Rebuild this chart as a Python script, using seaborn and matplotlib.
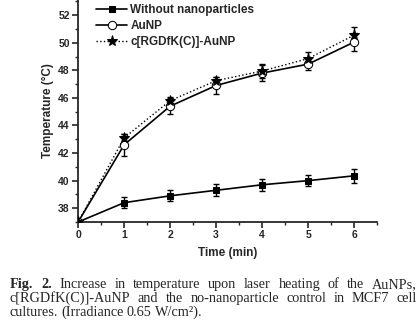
import numpy as np
import pandas as pd
import matplotlib
matplotlib.use('Agg')
import matplotlib.pyplot as plt
import seaborn as sns
from matplotlib.ticker import MultipleLocator

# Datos
tiempo = [0, 1, 2, 3, 4, 5, 6]
sin_np = [37.0, 38.4, 38.9, 39.3, 39.7, 40.0, 40.35]
sin_np_err = [0, 0.4, 0.4, 0.45, 0.45, 0.4, 0.5]
aunp = [37.0, 42.6, 45.4, 46.9, 47.8, 48.45, 50.05]
aunp_err = [0, 0.8, 0.6, 0.6, 0.55, 0.45, 0.65]
rgd = [37.0, 43.1, 45.8, 47.25, 47.95, 48.85, 50.55]
rgd_err = [0, 0.3, 0.3, 0.25, 0.5, 0.45, 0.6]

nombres = ['Without nanoparticles', 'AuNP', 'c[RGDfK(C)]-AuNP']

df = pd.DataFrame({
    'tiempo': tiempo * 3,
    'temp': sin_np + aunp + rgd,
    'serie': [nombres[0]] * 7 + [nombres[1]] * 7 + [nombres[2]] * 7,
})

sns.set_style('ticks')
plt.rcParams['font.family'] = ['Liberation Sans', 'DejaVu Sans']

fig = plt.figure(figsize=(4.2, 3.26), dpi=100)
ax = fig.add_axes([0.186, 0.319, 0.712, 0.681])

estilos = {
    nombres[0]: dict(marker='s', ls='-', mfc='black', ms=4.5, lw=1.2),
    nombres[1]: dict(marker='o', ls='-', mfc='white', ms=6, lw=1.2),
    nombres[2]: dict(marker='*', ls=':', mfc='black', ms=8, lw=1.0),
}
errores = {nombres[0]: sin_np_err, nombres[1]: aunp_err, nombres[2]: rgd_err}

for nombre in nombres:
    sub = df[df['serie'] == nombre]
    e = estilos[nombre]
    ax.errorbar(sub['tiempo'], sub['temp'], yerr=errores[nombre], fmt='none',
                ecolor='black', elinewidth=1.0, capsize=2.5, capthick=1.0, zorder=2)
    sns.lineplot(data=sub, x='tiempo', y='temp', ax=ax, color='black',
                 linestyle=e['ls'], linewidth=e['lw'], marker=e['marker'],
                 markersize=e['ms'], markerfacecolor=e['mfc'],
                 markeredgecolor='black', label=nombre, zorder=3)

ax.set_xlim(0, 6.5)
ax.set_ylim(37, 53.1)
ax.xaxis.set_major_locator(MultipleLocator(1))
ax.xaxis.set_minor_locator(MultipleLocator(0.5))
ax.yaxis.set_minor_locator(MultipleLocator(1))
ax.set_yticks([38, 40, 42, 44, 46, 48, 50, 52])
ax.tick_params(which='major', length=4, width=1.2, labelsize=7.5, pad=2)
ax.tick_params(which='minor', length=2.5, width=1.0)
for lab in ax.get_xticklabels() + ax.get_yticklabels():
    lab.set_fontweight('bold')
for s in ['left', 'bottom']:
    ax.spines[s].set_linewidth(1.3)
sns.despine(ax=ax)

ax.set_xlabel('Time (min)', fontsize=8.5, fontweight='bold', labelpad=5)
ax.set_ylabel('Temperature (°C)', fontsize=8.5, fontweight='bold', labelpad=3)

ax.legend(loc='upper left', bbox_to_anchor=(0.025, 1.03), frameon=False,
          prop={'weight': 'bold', 'size': 8.5}, handlelength=2.6,
          labelspacing=0.35, handletextpad=0.3)

# Pie de figura, justificado palabra a palabra
serif = ['Liberation Serif', 'DejaVu Serif']
lineas = [
    [('Fig.', 'bold'), ('2.', 'bold'), ('Increase', 'normal'), ('in', 'normal'),
     ('temperature', 'normal'), ('upon', 'normal'), ('laser', 'normal'),
     ('heating', 'normal'), ('of', 'normal'), ('the', 'normal'), ('AuNPs,', 'normal')],
    [(w, 'normal') for w in 'c[RGDfK(C)]-AuNP and the no-nanoparticle control in MCF7 cell'.split()],
    [(w, 'normal') for w in 'cultures. (Irradiance 0.65 W/cm²).'.split()],
]
y_lineas = [288, 302, 316]
x0, x1 = 10, 417
W, H = 420, 326
renderer = fig.canvas.get_renderer()

for i, (palabras, yp) in enumerate(zip(lineas, y_lineas)):
    textos = [fig.text(0, 1 - yp / H, w, fontsize=10.3, family=serif, fontweight=fw,
                       va='baseline') for w, fw in palabras]
    anchos = [t.get_window_extent(renderer).width for t in textos]
    if i < len(lineas) - 1:
        hueco = (x1 - x0 - sum(anchos)) / (len(textos) - 1)
    else:
        hueco = 3.0
    x = x0
    for t, a in zip(textos, anchos):
        t.set_x(x / W)
        x += a + hueco

fig.savefig('out.png', dpi=100)
